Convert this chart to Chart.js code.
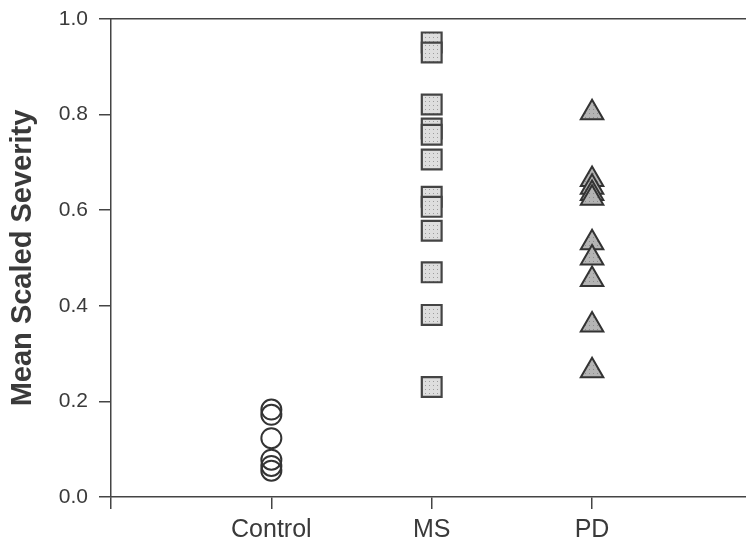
<!DOCTYPE html>
<html>
<head>
<meta charset="utf-8">
<script src="https://cdn.jsdelivr.net/npm/chart.js@4/dist/chart.umd.min.js"></script>
<style>
  html, body { margin: 0; padding: 0; background: #fff; }
  #wrap { width: 746px; height: 549px; }
</style>
</head>
<body>
<div id="wrap"><canvas id="chart" width="746" height="549"></canvas></div>
<script>
// Groups along the horizontal axis (placed at positions 1, 2, 3)
const categories = ['Control', 'MS', 'PD'];

// Mean scaled severity per subject, by group
const controlValues = [0.183, 0.172, 0.123, 0.078, 0.065, 0.055];
const msValues = [0.951, 0.930, 0.821, 0.771, 0.758, 0.706, 0.628, 0.607, 0.557, 0.470, 0.381, 0.230];
const pdValues = [0.804, 0.664, 0.648, 0.635, 0.625, 0.532, 0.500, 0.455, 0.360, 0.264];

// Vertical axis ticks
const yTicks = [0.0, 0.2, 0.4, 0.6, 0.8, 1.0];

const FONT = '"Liberation Sans", Arial, Helvetica, sans-serif';
const INK = '#3a3a3a';

// Small halftone-style fills for the shaded markers
function dotPattern(bg, dot) {
  const c = document.createElement('canvas');
  c.width = 4; c.height = 4;
  const g = c.getContext('2d');
  g.fillStyle = bg; g.fillRect(0, 0, 4, 4);
  g.fillStyle = dot; g.fillRect(1, 1, 1, 1);
  return g.createPattern(c, 'repeat');
}
const ctx = document.getElementById('chart').getContext('2d');
const squareFill = dotPattern('#dedede', '#9c9c9c');
const triangleFill = dotPattern('#b4b4b4', '#8a8a8a');

function points(values, groupIndex) {
  return values.map(v => ({ x: groupIndex + 1, y: v }));
}

// Keep axes flush with the canvas edges
function noEdgePadding(s) {
  s.paddingLeft = 0; s.paddingRight = 0;
  s.paddingTop = 0; s.paddingBottom = 0;
}

new Chart(ctx, {
  type: 'scatter',
  data: {
    datasets: [
      {
        label: categories[0],
        data: points(controlValues, 0),
        pointStyle: 'circle',
        pointRadius: 10,
        pointHoverRadius: 10,
        borderWidth: 2,
        borderColor: '#333',
        backgroundColor: 'rgba(255,255,255,0)'
      },
      {
        label: categories[1],
        data: points(msValues, 1),
        pointStyle: 'rect',
        pointRadius: 14,
        pointHoverRadius: 14,
        borderWidth: 2.2,
        borderColor: '#444',
        backgroundColor: squareFill
      },
      {
        label: categories[2],
        data: points(pdValues, 2),
        pointStyle: 'triangle',
        pointRadius: 13,
        pointHoverRadius: 13,
        borderWidth: 2,
        borderColor: '#333',
        backgroundColor: triangleFill
      }
    ]
  },
  options: {
    responsive: false,
    animation: false,
    devicePixelRatio: 1,
    layout: { autoPadding: false, padding: { top: 19, right: 0, left: 0, bottom: 0 } },
    plugins: {
      legend: { display: false },
      tooltip: { enabled: false }
    },
    scales: {
      x: {
        type: 'linear',
        position: 'bottom',
        min: 0,
        max: 3.96,
        afterFit: s => { s.height = 52; noEdgePadding(s); },
        afterBuildTicks: s => {
          s.ticks = [0, 1, 2, 3].map(v => ({ value: v }));
        },
        ticks: {
          autoSkip: false,
          maxRotation: 0,
          padding: 6,
          color: INK,
          font: { family: FONT, size: 25 },
          callback: v => (v >= 1 && v <= categories.length) ? categories[v - 1] : ''
        },
        grid: {
          display: true,
          drawOnChartArea: false,
          drawTicks: true,
          tickLength: 12,
          color: '#444',
          lineWidth: 1.5
        },
        border: { display: true, color: '#444', width: 1.5 }
      },
      xTop: {
        type: 'linear',
        position: 'top',
        afterFit: s => { s.height = 0; noEdgePadding(s); },
        ticks: { display: false },
        grid: { display: false },
        border: { display: true, color: '#444', width: 1.5 }
      },
      y: {
        type: 'linear',
        min: 0,
        max: 1,
        afterFit: s => { s.width = 111; noEdgePadding(s); },
        afterBuildTicks: s => {
          s.ticks = yTicks.map(v => ({ value: v }));
        },
        ticks: {
          padding: 11,
          color: INK,
          font: { family: FONT, size: 21 },
          callback: v => Number(v).toFixed(1)
        },
        grid: {
          display: true,
          drawOnChartArea: false,
          drawTicks: true,
          tickLength: 12,
          color: '#444',
          lineWidth: 1.5
        },
        border: { display: true, color: '#444', width: 1.5 },
        title: {
          display: true,
          text: 'Mean Scaled Severity',
          color: INK,
          font: { family: FONT, size: 29, weight: 'bold' },
          padding: { top: 6, bottom: 0 }
        }
      }
    }
  }
});
</script>
</body>
</html>
